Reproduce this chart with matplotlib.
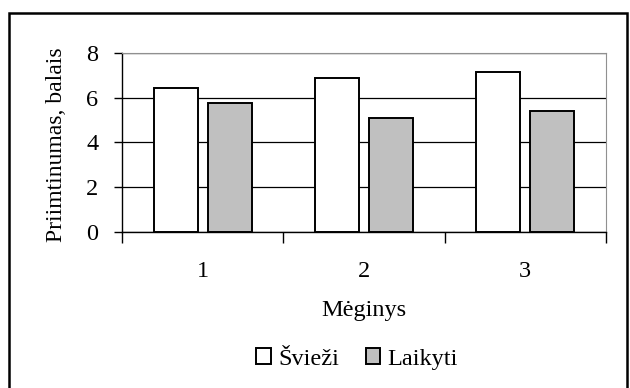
import numpy as np
import matplotlib
matplotlib.use("Agg")
import matplotlib.pyplot as plt
from matplotlib.patches import Rectangle

samples = ['1', '2', '3']
svieži = [6.45, 6.9, 7.15]
laikyti = [5.75, 5.1, 5.4]

plt.rcParams['font.family'] = ['Liberation Serif', 'DejaVu Serif']

fig = plt.figure(figsize=(6.3, 3.88), dpi=100)
ax = fig.add_axes([122 / 630, 1 - 231.5 / 388, 484 / 630, 178.5 / 388])

x = np.arange(1, len(samples) + 1)
w = 0.273
off = 0.168
ax.bar(x - off, svieži, width=w, color='white', edgecolor='black', linewidth=1.4, label='Švieži', zorder=3)
ax.bar(x + off, laikyti, width=w, color='#c0c0c0', edgecolor='black', linewidth=1.4, label='Laikyti', zorder=3)

ax.set_xlim(0.5, 3.5)
ax.set_ylim(0, 8)
ax.set_yticks([0, 2, 4, 6, 8])
ax.yaxis.grid(True, color='black', linewidth=0.9, zorder=0)
ax.tick_params(axis='y', length=6, width=1, pad=11, labelsize=17.5)

ax.set_xticks([0.5, 1.5, 2.5, 3.5])
ax.set_xticklabels([])
ax.tick_params(axis='x', which='major', length=8, width=1)
ax.set_xticks(x, minor=True)
ax.set_xticklabels(samples, minor=True)
ax.tick_params(axis='x', which='minor', length=0, pad=21, labelsize=17.5)

for s in ['top', 'right']:
    ax.spines[s].set_color('#909090')
for s in ['left', 'bottom']:
    ax.spines[s].set_color('black')
    ax.spines[s].set_linewidth(1)

ax.set_xlabel('Mėginys', fontsize=17.5)
ax.xaxis.set_label_coords(0.5, -0.385)
fig.text(56 / 630, 1 - 145 / 388, 'Priimtinumas, balais', rotation=90,
         ha='center', va='center', fontsize=17)

fig.legend(loc='center', bbox_to_anchor=(357 / 630, 1 - 359 / 388), ncol=2, frameon=False,
           fontsize=17.5, handlelength=0.6, handleheight=0.6, handletextpad=0.3,
           columnspacing=1.1)

fig.patches.append(Rectangle((9 / 630, -0.05), 618 / 630, 1.05 - 13 / 388, transform=fig.transFigure,
                             fill=False, edgecolor='black', linewidth=1.8, clip_on=False))

plt.savefig('out.png')
